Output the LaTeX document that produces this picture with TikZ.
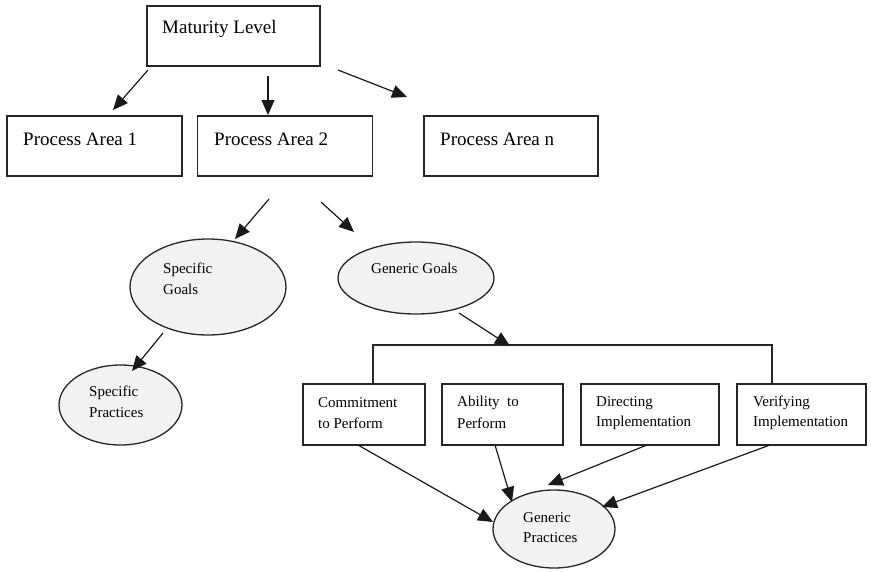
\documentclass[tikz,border=0pt]{standalone}
\usepackage{fontspec}
\setmainfont{Liberation Serif}
\usetikzlibrary{shapes.geometric,arrows.meta}
\begin{document}
\begin{tikzpicture}[x=1pt,y=-1pt,
  box/.style={draw=black!85,line width=1.5pt,rectangle,inner sep=0pt,minimum height=60pt},
  oval/.style={draw=black!85,line width=1.3pt,ellipse,fill=black!5,inner sep=0pt},
  big/.style={anchor=west,inner sep=0pt,font=\fontsize{19}{23}\selectfont},
  small/.style={anchor=west,inner sep=0pt,font=\fontsize{15}{20}\selectfont},
  arr/.style={draw=black!90,line width=1.2pt,-{Triangle[length=15pt,width=13pt]}},
  bus/.style={draw=black!85,line width=1.4pt}]
\useasboundingbox (0,0) rectangle (871,571);
% boxes
\node[box,minimum width=173pt] (ml) at (233.5,36) {};
\node[box,minimum width=175pt] (pa1) at (94.5,146) {};
\node[box,minimum width=175pt] (pa2) at (285,146) {};
\node[box,minimum width=174pt] (pan) at (511,146) {};
\node[box,minimum width=122pt,minimum height=61pt] (cp) at (364,414.5) {};
\node[box,minimum width=121pt,minimum height=61pt] (ab) at (502.5,414.5) {};
\node[box,minimum width=138pt,minimum height=61pt] (di) at (650,414.5) {};
\node[box,minimum width=129pt,minimum height=61pt] (ve) at (801.5,414.5) {};
% ellipses
\node[oval,minimum width=156pt,minimum height=96pt] (sg) at (208,287) {};
\node[oval,minimum width=156pt,minimum height=72pt] (gg) at (416,278) {};
\node[oval,minimum width=123pt,minimum height=80pt] (sp) at (120.5,405) {};
\node[oval,minimum width=122pt,minimum height=78pt] (gp) at (554,529) {};
% texts
\node[big] (tml) at (162,29) {Maturity Level};
\node[big] (tpa1) at (23,139) {Process Area 1};
\node[big] (tpa2) at (214,139) {Process Area 2};
\node[big] (tpan) at (440,139) {Process Area n};
\node[small] (tsg1) at (163,270) {Specific};
\node[small] (tsg2) at (163,289) {Goals};
\node[small] (tgg) at (371,268) {Generic Goals};
\node[small] (tsp1) at (89,393) {Specific};
\node[small] (tsp2) at (89,413) {Practices};
\node[small] (tcp1) at (318,403) {Commitment};
\node[small] (tcp2) at (318,423) {to Perform};
\node[small] (tab1) at (457,403) {Ability\ \ to};
\node[small] (tab2) at (457,423) {Perform};
\node[small] (tdi1) at (596,403) {Directing};
\node[small] (tdi2) at (596,423) {Implementation};
\node[small] (tve1) at (753,403) {Verifying};
\node[small] (tve2) at (753,423) {Implementation};
\node[small] (tgp1) at (523,518) {Generic};
\node[small] (tgp2) at (523,538) {Practices};
% connector end points
\coordinate (a1s) at (148,70);  \coordinate (a1e) at (113,110);
\coordinate (a2s) at (268,76);  \coordinate (a2e) at (268,115);
\coordinate (a3s) at (338,70);  \coordinate (a3e) at (407,97);
\coordinate (b1s) at (269,199); \coordinate (b1e) at (235,239);
\coordinate (b2s) at (321,202); \coordinate (b2e) at (354,232);
\coordinate (c1s) at (163,333); \coordinate (c1e) at (132,371);
\coordinate (c2s) at (459,313); \coordinate (c2e) at (510,346);
\coordinate (busl) at (373,345); \coordinate (busr) at (772,345);
\coordinate (d1s) at (358,445); \coordinate (d1e) at (493,522);
\coordinate (d2s) at (495,445); \coordinate (d2e) at (512,502);
\coordinate (d3s) at (647,445); \coordinate (d3e) at (548,485);
\coordinate (d4s) at (770,445); \coordinate (d4e) at (602,507);
% connectors
\draw[arr] (a1s) -- (a1e);
\draw[arr] (a2s) -- (a2e);
\draw[arr] (a3s) -- (a3e);
\draw[arr] (b1s) -- (b1e);
\draw[arr] (b2s) -- (b2e);
\draw[arr] (c1s) -- (c1e);
\draw[bus] (cp.north -| busl) -- (busl) -- (busr) -- (ve.north -| busr);
\draw[arr] (c2s) -- (c2e);
\draw[arr] (d1s) -- (d1e);
\draw[arr] (d2s) -- (d2e);
\draw[arr] (d3s) -- (d3e);
\draw[arr] (d4s) -- (d4e);
\end{tikzpicture}
\end{document}
